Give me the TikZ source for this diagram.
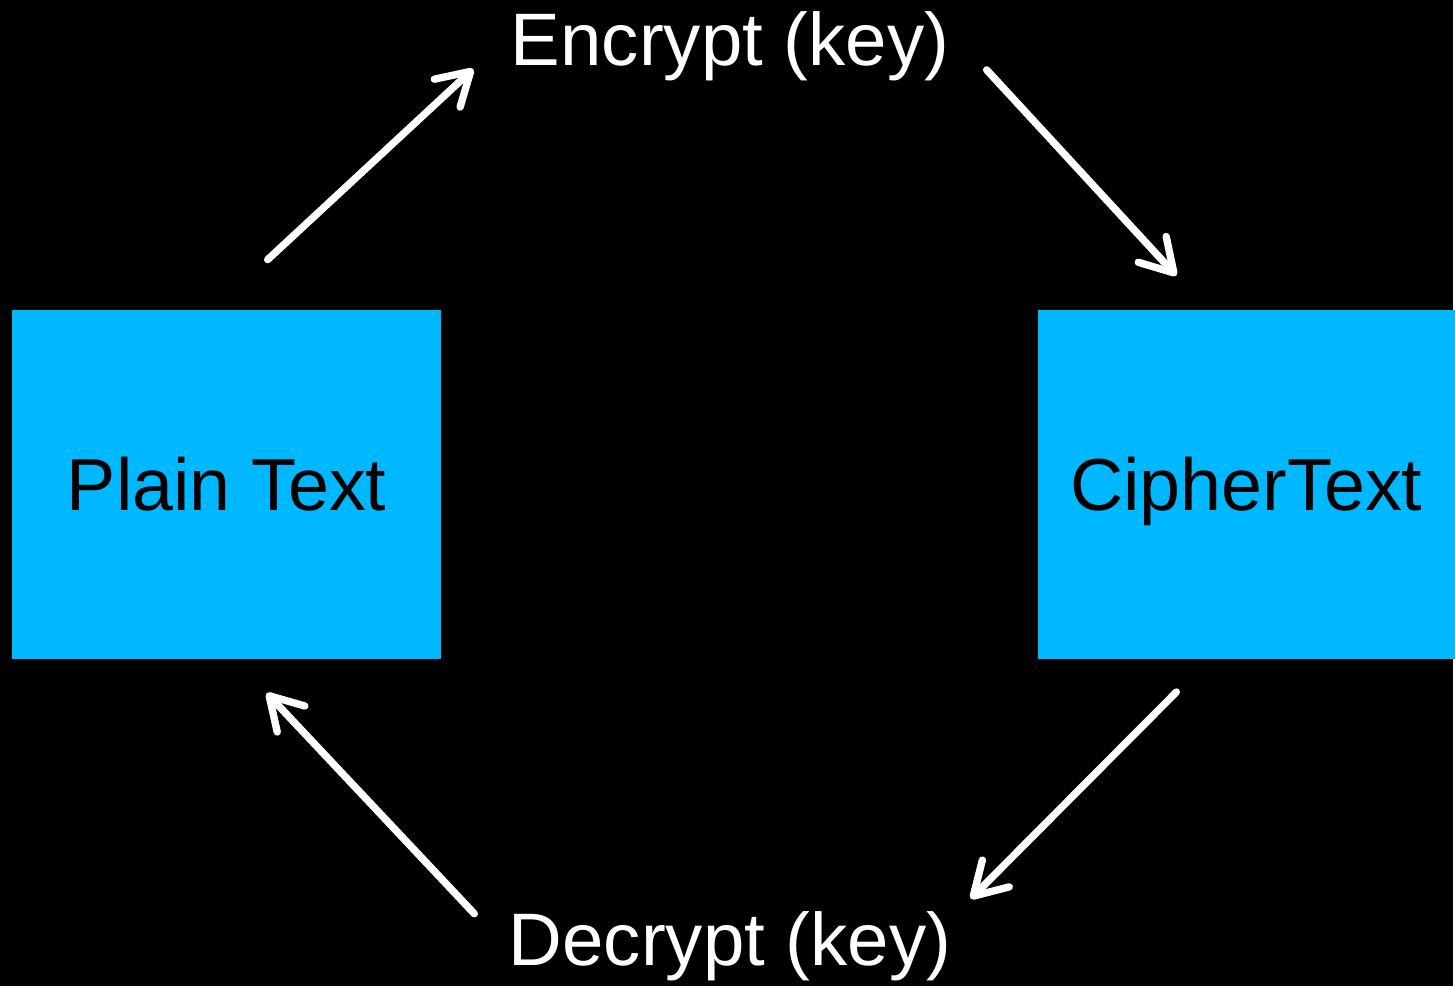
\documentclass[tikz,border=0pt]{standalone}
\usepackage{fontspec}
\setmainfont{Liberation Sans}
\usetikzlibrary{arrows.meta,positioning}
\definecolor{boxblue}{RGB}{0,184,255}

\begin{document}
\begin{tikzpicture}[
    box/.style={rectangle, fill=boxblue, minimum height=3.49cm, inner sep=0pt, align=center, text height=15pt, text depth=0pt, font=\fontsize{21}{25}\selectfont},
    steptext/.style={anchor=base, text=white, inner sep=0pt, font=\fontsize{21.2}{26}\selectfont},
    arrow/.style={-{Straight Barb[length=3.2mm, width=3.8mm, round]}, white, line width=2.1pt, line cap=round}
]
    \fill[black] (0,0) rectangle (14.55,9.87);

    \node[box, minimum width=4.29cm] (plain) at (2.27,5.02) {Plain Text};
    \node[box, minimum width=4.18cm] (cipher) at (12.48,5.02) {CipherText};
    \node[steptext] (encrypt) at (7.31,9.21) {Encrypt (key)};
    \node[steptext] (decrypt) at (7.31,0.20) {Decrypt (key)};

    % free ends of the arrows
    \coordinate (plainup) at (2.68,7.27);
    \coordinate (encin) at (4.74,9.18);
    \coordinate (encout) at (9.88,9.17);
    \coordinate (cipherin) at (11.78,7.11);
    \coordinate (cipherdown) at (11.78,2.94);
    \coordinate (decin) at (9.72,0.87);
    \coordinate (decout) at (4.75,0.72);
    \coordinate (plainin) at (2.67,2.93);

    \draw[arrow] (plainup) -- (encin);
    \draw[arrow] (encout) -- (cipherin);
    \draw[arrow] (cipherdown) -- (decin);
    \draw[arrow] (decout) -- (plainin);
\end{tikzpicture}
\end{document}
